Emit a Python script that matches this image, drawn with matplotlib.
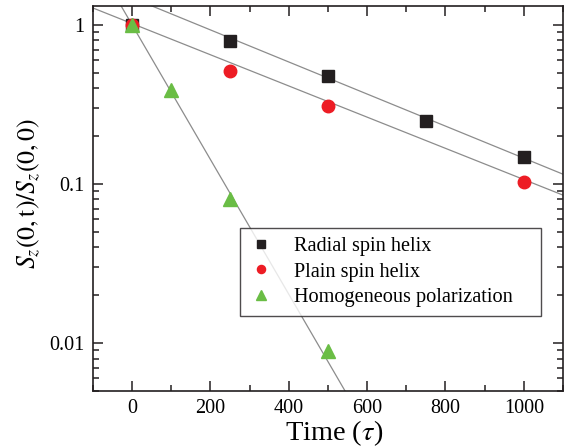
import numpy as np
import matplotlib
matplotlib.use('Agg')
import matplotlib.pyplot as plt
from matplotlib.ticker import FixedLocator, LogLocator, MultipleLocator, NullFormatter, FuncFormatter

plt.rcParams['font.family'] = ['Liberation Serif', 'DejaVu Serif']
plt.rcParams['mathtext.fontset'] = 'stix'

# data
radial_t = [0, 250, 500, 750, 1000]
radial_s = [1.0, 0.79, 0.478, 0.249, 0.148]

plain_t = [0, 250, 500, 1000]
plain_s = [1.0, 0.514, 0.31, 0.103]

homog_t = [0, 100, 250, 500]
homog_s = [1.0, 0.39, 0.0805, 0.0089]

# exponential fits: amplitude, decay time
radial_fit = (1.48, 431.0)
plain_fit = (1.02, 443.0)
homog_fit = (1.0, 102.6)

fig = plt.figure(figsize=(5.66, 4.47), dpi=100)
ax = fig.add_axes([0.1643, 0.1253, 0.8304, 0.8613])

tt = np.linspace(-100, 1100, 400)
for amp, tau in (radial_fit, plain_fit, homog_fit):
    ax.plot(tt, amp * np.exp(-tt / tau), color='#8c8c8c', lw=0.9, zorder=1)

ax.plot(radial_t, radial_s, 's', color='#231f20', ms=8.5, label='Radial spin helix', zorder=3)
ax.plot(plain_t, plain_s, 'o', color='#ed1c24', ms=9, label='Plain spin helix', zorder=3)
ax.plot(homog_t, homog_s, '^', color='#6abd45', ms=10, label='Homogeneous polarization', zorder=4)

ax.set_yscale('log')
ax.set_xlim(-100, 1100)
ax.set_ylim(0.005, 1.316)

ax.xaxis.set_major_locator(MultipleLocator(200))
ax.xaxis.set_minor_locator(MultipleLocator(100))
ax.yaxis.set_major_locator(FixedLocator([0.01, 0.1, 1]))
ax.yaxis.set_minor_locator(LogLocator(base=10, subs=np.arange(2, 10)))
ax.yaxis.set_minor_formatter(NullFormatter())
ax.yaxis.set_major_formatter(FuncFormatter(lambda v, p: {0.01: '0.01', 0.1: '0.1', 1: '1'}.get(round(v, 3), '')))

ax.tick_params(which='both', direction='in', top=True, right=True, labelsize=14.5, width=1.1, color='#231f20')
ax.tick_params(which='major', length=7, pad=6)
ax.tick_params(which='minor', length=4)
for s in ax.spines.values():
    s.set_linewidth(1.2)
    s.set_color('#231f20')

xl = ax.set_xlabel(r'Time ($\tau$)', fontsize=20)
yl = ax.set_ylabel(r'$S_z(0,\mathrm{t})/S_z(0,0)$', fontsize=20)
xl.set_va('center')
yl.set_va('center')
ax.xaxis.set_label_coords(0.513, -0.109)
ax.yaxis.set_label_coords(-0.137, 0.514)

# scale the label sizes to the lengths seen in the reference
renderer = fig.canvas.get_renderer()
for lab, target, horiz in ((xl, 98, True), (yl, 151, False)):
    bb = lab.get_window_extent(renderer)
    cur = bb.width if horiz else bb.height
    lab.set_fontsize(lab.get_fontsize() * target / cur)

leg = ax.legend(loc='lower left', bbox_to_anchor=(0.3128, 0.195, 0.64, 0.23), mode='expand',
                fontsize=14.6, frameon=True, fancybox=False, edgecolor='#231f20',
                markerscale=0.65, handletextpad=1.0, borderpad=0.45, labelspacing=0.3,
                handlelength=1.2, borderaxespad=0)
leg.get_frame().set_linewidth(1.0)

fig.savefig('out.png', dpi=100)
